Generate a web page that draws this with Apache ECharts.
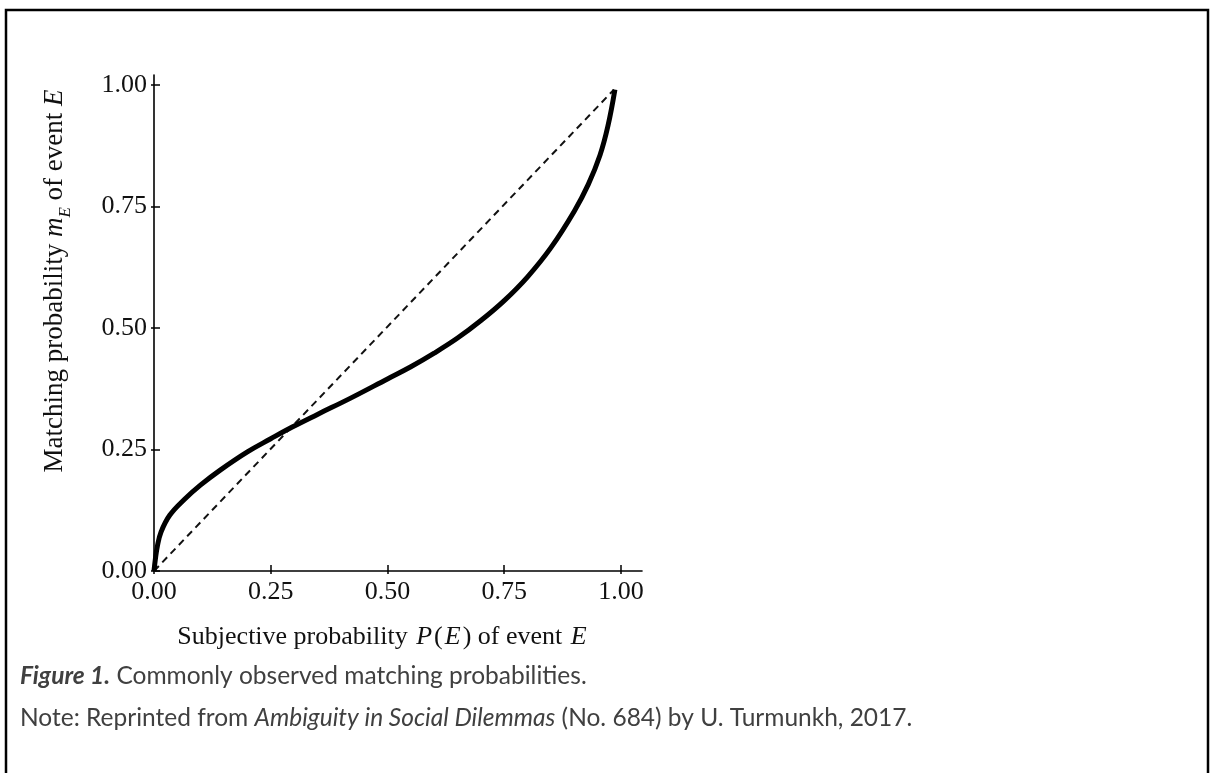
<!DOCTYPE html>
<html>
<head>
<meta charset="utf-8">
<script src="https://cdn.jsdelivr.net/npm/echarts@6/dist/echarts.min.js"></script>
<style>
html,body{margin:0;padding:0;background:#fff;}
#c{width:1211px;height:773px;}
</style>
</head>
<body>
<div id="c"></div>
<script>
// ---- data ----
var tickValues = [0, 0.25, 0.5, 0.75, 1.0];
var tickLabels = ['0.00', '0.25', '0.50', '0.75', '1.00'];
var subjP = [0, 0.003, 0.007, 0.015, 0.034, 0.066, 0.1, 0.141, 0.2, 0.25, 0.296, 0.35, 0.42, 0.5, 0.55, 0.6, 0.65, 0.7, 0.75, 0.8, 0.85, 0.9, 0.93, 0.955, 0.972, 0.987];
var matchM = [0, 0.025, 0.05, 0.08, 0.115, 0.148, 0.177, 0.207, 0.245, 0.272, 0.296, 0.322, 0.355, 0.395, 0.42, 0.448, 0.479, 0.515, 0.556, 0.605, 0.665, 0.74, 0.795, 0.855, 0.915, 0.99];
var diagP = [0, 0.985];
var diagM = [0, 0.99];
var captionLabel = 'Figure 1.';
var captionText = ' Commonly observed matching probabilities.';
var notePre = 'Note: Reprinted from ';
var noteItalic = 'Ambiguity in Social Dilemmas';
var notePost = ' (No. 684) by U. Turmunkh, 2017.';

var curve = subjP.map(function (p, i) { return [p, matchM[i]]; });
var diag = diagP.map(function (p, i) { return [p, diagM[i]]; });

var serif = '"Liberation Serif", "DejaVu Serif", serif';
var labelFmt = function (v) {
  var idx = tickValues.indexOf(v);
  return idx >= 0 ? tickLabels[idx] : '';
};

var chart = echarts.init(document.getElementById('c'), null, {renderer: 'canvas'});
chart.setOption({
  backgroundColor: '#fff',
  animation: false,
  grid: {left: 154, top: 75, width: 488, height: 496, containLabel: false},
  xAxis: [{
    type: 'value', min: 0, max: 1.045,
    splitLine: {show: false},
    axisLine: {show: true, lineStyle: {color: '#000', width: 1.6}},
    axisTick: {show: true, inside: true, length: 6, lineStyle: {color: '#000', width: 1.5}, customValues: tickValues},
    axisLabel: {show: true, margin: 8, fontFamily: serif, fontSize: 26, color: '#111', customValues: tickValues, formatter: labelFmt},
    name: '{n|Subjective probability }{i|P}{n|(}{i|E}{n|) of event }{i|E}',
    nameLocation: 'middle', nameGap: 53,
    nameTextStyle: {
      padding: [0, 30, 0, 0],
      rich: {
        n: {fontFamily: serif, fontSize: 26, color: '#111'},
        i: {fontFamily: serif, fontSize: 26, fontStyle: 'italic', color: '#111', padding: [0, 2, 0, 2]}
      }
    }
  }, {
    type: 'value', min: 0, max: 1.045, position: 'bottom',
    splitLine: {show: false},
    axisLine: {show: false},
    axisTick: {show: true, inside: false, length: 3, lineStyle: {color: '#000', width: 1.5}, customValues: tickValues},
    axisLabel: {show: false}
  }],
  yAxis: [{
    type: 'value', min: 0, max: 1.02,
    splitLine: {show: false},
    axisLine: {show: true, lineStyle: {color: '#000', width: 1.6}},
    axisTick: {show: true, inside: true, length: 6, lineStyle: {color: '#000', width: 1.5}, customValues: tickValues},
    axisLabel: {show: true, margin: 7, fontFamily: serif, fontSize: 26, color: '#111', customValues: tickValues, formatter: labelFmt},
    name: '{n|Matching probability }{i|m}{s|E}{n| of event }{i|E}',
    nameLocation: 'middle', nameGap: 80, nameRotate: 90,
    nameTextStyle: {
      padding: [0, 0, 0, 84],
      rich: {
        n: {fontFamily: serif, fontSize: 27, color: '#111'},
        i: {fontFamily: serif, fontSize: 27, fontStyle: 'italic', color: '#111'},
        s: {fontFamily: serif, fontSize: 17, fontStyle: 'italic', color: '#111', lineHeight: 39, verticalAlign: 'bottom'}
      }
    }
  }, {
    type: 'value', min: 0, max: 1.02, position: 'left',
    splitLine: {show: false},
    axisLine: {show: false},
    axisTick: {show: true, inside: false, length: 3, lineStyle: {color: '#000', width: 1.5}, customValues: tickValues},
    axisLabel: {show: false}
  }],
  series: [{
    type: 'line', name: 'diagonal', data: diag, xAxisIndex: 0, yAxisIndex: 0,
    showSymbol: false, symbol: 'none',
    lineStyle: {color: '#111', width: 2, type: [7, 5]}
  }, {
    type: 'line', name: 'matching', data: curve, xAxisIndex: 0, yAxisIndex: 0,
    showSymbol: false, symbol: 'none', smooth: 0.4,
    lineStyle: {color: '#000', width: 5, cap: 'butt', join: 'round'}
  }],
  graphic: [{
    type: 'rect', shape: {x: 6, y: 10, width: 1202, height: 800},
    style: {fill: null, stroke: '#000', lineWidth: 2.5}
  }, {
    type: 'text', left: 20, top: 664,
    style: {
      text: '{b|' + captionLabel + '}{r|' + captionText + '}',
      rich: {
        b: {fontFamily: 'Lato', fontSize: 24.5, fontWeight: 'bold', fontStyle: 'italic', fill: '#404040'},
        r: {fontFamily: 'Lato', fontSize: 24.5, fill: '#404040'}
      }
    }
  }, {
    type: 'text', left: 20, top: 706,
    style: {
      text: '{r|' + notePre + '}{i|' + noteItalic + '}{r|' + notePost + '}',
      rich: {
        i: {fontFamily: 'Lato', fontSize: 24.5, fontStyle: 'italic', fill: '#404040'},
        r: {fontFamily: 'Lato', fontSize: 24.5, fill: '#404040'}
      }
    }
  }]
});
</script>
</body>
</html>
